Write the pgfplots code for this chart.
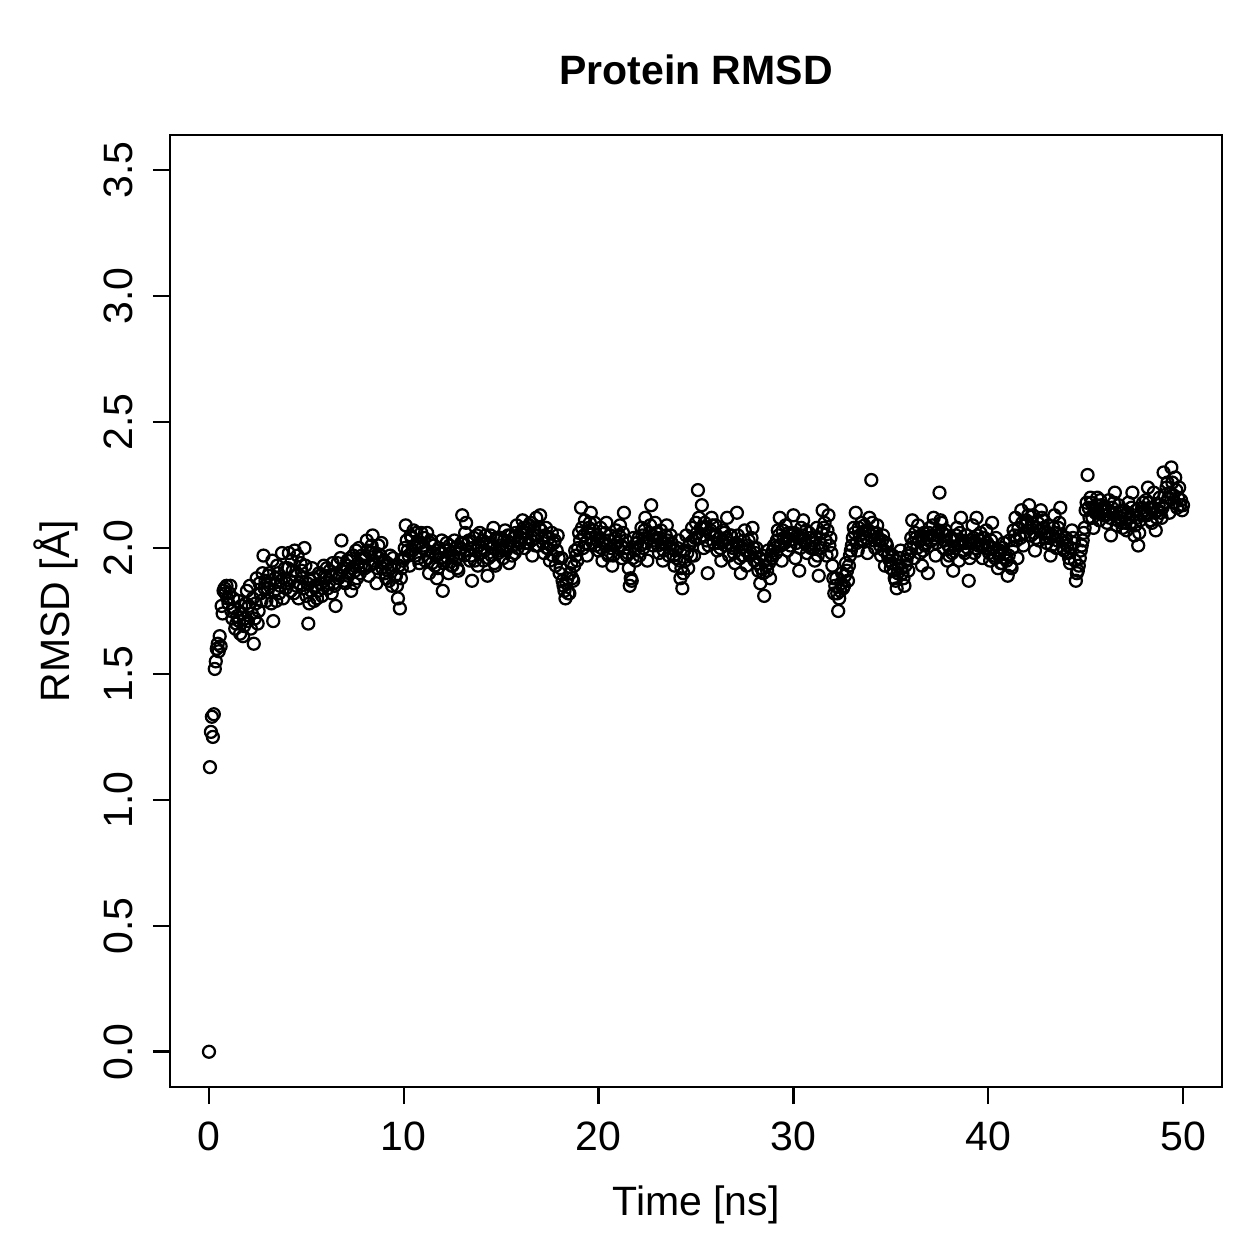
\documentclass[border=0pt]{standalone}
\usepackage{fontspec}
\setmainfont{Liberation Sans}
\usepackage{pgfplots}
\pgfplotsset{compat=1.18}

\begin{document}
\fontsize{16.4}{19.7}\selectfont
\begin{tikzpicture}
\begin{axis}[
  at={(0,0)}, anchor=south west,
  scale only axis,
  width=420.8pt, height=380.8pt,
  xmin=-2, xmax=52,
  ymin=-0.14, ymax=3.64,
  xtick={0,10,20,30,40,50},
  ytick={0,0.5,1,1.5,2,2.5,3,3.5},
  xtick pos=lower, ytick pos=left,
  tick align=outside,
  major tick length=6.8pt,
  axis line style={line width=1pt},
  every tick/.style={line width=1pt, black},
  /pgf/number format/assume math mode=true,
  tick label style={font=\fontsize{16.4}{19.7}\selectfont},
  xticklabel style={inner sep=0pt, anchor=north, yshift=-6.8pt},
  yticklabel style={inner sep=0pt, xshift=-8pt, rotate=90, anchor=base,
    /pgf/number format/fixed, /pgf/number format/fixed zerofill,
    /pgf/number format/precision=1},
  xlabel={Time [ns]},
  ylabel={RMSD [Å]},
  xlabel style={at={(axis description cs:0.5,0)}, anchor=base, inner sep=0pt, yshift=-51.2pt},
  ylabel style={at={(axis description cs:-0.0951,0.5)}, rotate=0, anchor=base, inner sep=0pt},
  label style={font=\fontsize{16.4}{19.7}\selectfont},
  title={Protein RMSD},
  title style={at={(axis description cs:0.5,1)}, anchor=base, inner sep=0pt, yshift=14pt,
    font=\fontsize{16.4}{19.7}\selectfont\bfseries},
]
% RMSD of the protein backbone, one frame every 0.05 ns
\addplot[only marks, mark=o, mark size=2.4pt, black,
  mark options={line width=0.9pt}] coordinates {
(0,0.00)(0.05,1.13)(0.1,1.27)(0.15,1.33)(0.2,1.25)(0.25,1.34)(0.3,1.52)(0.35,1.55)(0.4,1.60)(0.45,1.62)
(0.5,1.59)(0.55,1.65)(0.6,1.61)(0.65,1.77)(0.7,1.74)(0.75,1.83)(0.8,1.84)(0.85,1.82)(0.9,1.85)(0.95,1.80)
(1.0,1.78)(1.1,1.85)(1.2,1.72)(1.3,1.76)(1.4,1.70)(1.5,1.79)(1.6,1.66)(1.7,1.74)(1.8,1.69)(1.9,1.78)
(2.0,1.71)(2.1,1.85)(2.2,1.74)(2.3,1.62)(2.4,1.78)(2.5,1.70)(2.6,1.86)(2.7,1.79)(2.8,1.97)(2.9,1.87)
(3.0,1.84)(3.1,1.90)(3.2,1.78)(3.3,1.71)(3.4,1.88)(3.5,1.93)(3.6,1.82)(3.7,1.87)(3.8,1.80)(3.9,1.92)
(4.0,1.86)(4.1,1.98)(4.2,1.83)(4.3,1.91)(4.4,1.99)(4.5,1.85)(4.6,1.80)(4.7,1.94)(4.8,1.88)(4.9,2.00)
(5.0,1.81)(5.1,1.70)(5.2,1.87)(5.3,1.92)(5.4,1.79)(5.5,1.85)(5.6,1.83)(5.7,1.89)(5.8,1.81)(5.9,1.93)
(6.0,1.88)(6.1,1.84)(6.2,1.91)(6.3,1.82)(6.4,1.86)(6.5,1.77)(6.6,1.94)(6.7,1.89)(6.8,2.03)(6.9,1.92)
(7.0,1.86)(7.1,1.95)(7.2,1.90)(7.3,1.83)(7.4,1.97)(7.5,1.91)(7.6,1.88)(7.7,2.00)(7.8,1.93)(7.9,1.96)
(8.0,1.92)(8.1,2.03)(8.2,1.89)(8.3,1.98)(8.4,2.05)(8.5,1.94)(8.6,1.86)(8.7,2.01)(8.8,1.97)(8.9,1.92)
(9.0,1.95)(9.1,1.88)(9.2,1.91)(9.3,1.97)(9.4,1.85)(9.5,1.93)(9.6,1.89)(9.7,1.80)(9.8,1.76)(9.9,1.92)
(10.0,1.96)(10.1,2.09)(10.2,1.99)(10.3,1.93)(10.4,2.04)(10.5,2.07)(10.6,1.97)(10.7,2.02)(10.8,1.94)(10.9,2.06)
(11.0,2.01)(11.1,1.95)(11.2,2.06)(11.3,1.90)(11.4,2.03)(11.5,1.98)(11.6,1.93)(11.7,1.88)(11.8,2.00)(11.9,1.96)
(12.0,1.83)(12.1,1.95)(12.2,2.02)(12.3,1.90)(12.4,1.98)(12.5,1.93)(12.6,2.03)(12.7,1.96)(12.8,1.91)(12.9,2.00)
(13.0,2.13)(13.1,1.97)(13.2,2.10)(13.3,2.02)(13.4,1.95)(13.5,1.87)(13.6,2.04)(13.7,1.99)(13.8,1.93)(13.9,2.06)
(14.0,2.00)(14.1,1.95)(14.2,2.05)(14.3,1.89)(14.4,2.02)(14.5,1.97)(14.6,2.08)(14.7,1.93)(14.8,2.03)(14.9,1.99)
(15.0,2.04)(15.1,1.96)(15.2,2.07)(15.3,2.00)(15.4,1.94)(15.5,2.05)(15.6,2.01)(15.7,1.98)(15.8,2.09)(15.9,2.03)
(16.0,2.06)(16.1,2.11)(16.2,2.00)(16.3,2.08)(16.4,2.02)(16.5,2.10)(16.6,1.97)(16.7,2.05)(16.8,2.12)(16.9,2.01)
(17.0,2.13)(17.1,2.04)(17.2,1.98)(17.3,2.08)(17.4,2.00)(17.5,1.95)(17.6,2.06)(17.7,2.02)(17.8,1.93)(17.9,2.05)
(18.0,1.90)(18.1,1.96)(18.2,1.85)(18.3,1.80)(18.4,1.88)(18.5,1.82)(18.6,1.94)(18.7,1.87)(18.8,1.99)(18.9,1.95)
(19.0,2.06)(19.1,2.16)(19.2,2.00)(19.3,2.11)(19.4,1.97)(19.5,2.08)(19.6,2.14)(19.7,2.02)(19.8,2.10)(19.9,2.05)
(20.0,1.99)(20.1,2.08)(20.2,1.95)(20.3,2.03)(20.4,2.10)(20.5,1.97)(20.6,2.05)(20.7,1.93)(20.8,2.01)(20.9,2.07)
(21.0,2.00)(21.1,2.09)(21.2,1.96)(21.3,2.14)(21.4,2.03)(21.5,1.98)(21.6,1.85)(21.7,1.87)(21.8,2.04)(21.9,1.95)
(22.0,2.02)(22.1,1.97)(22.2,2.08)(22.3,2.00)(22.4,2.12)(22.5,1.95)(22.6,2.06)(22.7,2.17)(22.8,2.01)(22.9,2.10)
(23.0,2.04)(23.1,1.98)(23.2,2.07)(23.3,1.95)(23.4,2.02)(23.5,2.09)(23.6,1.97)(23.7,2.05)(23.8,2.00)(23.9,1.93)
(24.0,1.96)(24.1,2.03)(24.2,1.88)(24.3,1.84)(24.4,1.99)(24.5,2.05)(24.6,1.92)(24.7,2.02)(24.8,2.08)(24.9,1.97)
(25.0,2.10)(25.1,2.23)(25.2,2.04)(25.3,2.17)(25.4,2.00)(25.5,2.08)(25.6,1.90)(25.7,2.06)(25.8,2.12)(25.9,2.02)
(26.0,2.09)(26.1,1.99)(26.2,2.04)(26.3,1.95)(26.4,2.07)(26.5,2.01)(26.6,2.12)(26.7,1.97)(26.8,2.05)(26.9,2.00)
(27.0,1.94)(27.1,2.14)(27.2,2.01)(27.3,1.90)(27.4,1.97)(27.5,2.07)(27.6,1.93)(27.7,2.03)(27.8,1.98)(27.9,2.08)
(28.0,1.95)(28.1,2.00)(28.2,1.91)(28.3,1.86)(28.4,1.97)(28.5,1.81)(28.6,1.93)(28.7,1.99)(28.8,1.88)(28.9,1.96)
(29.0,2.01)(29.1,1.98)(29.2,2.07)(29.3,2.12)(29.4,1.95)(29.5,2.04)(29.6,2.09)(29.7,1.99)(29.8,2.03)(29.9,2.06)
(30.0,2.13)(30.1,1.96)(30.2,2.05)(30.3,1.91)(30.4,2.08)(30.5,2.11)(30.6,2.02)(30.7,1.98)(30.8,2.06)(30.9,2.00)
(31.0,2.03)(31.1,1.95)(31.2,2.08)(31.3,1.89)(31.4,2.00)(31.5,2.15)(31.6,2.10)(31.7,1.97)(31.8,2.13)(31.9,2.04)
(32.0,1.93)(32.1,1.82)(32.2,1.88)(32.3,1.75)(32.4,1.83)(32.5,1.90)(32.6,1.85)(32.7,1.94)(32.8,1.87)(32.9,1.97)
(33.0,2.01)(33.1,2.08)(33.2,2.14)(33.3,1.99)(33.4,2.05)(33.5,2.10)(33.6,2.03)(33.7,2.07)(33.8,1.98)(33.9,2.12)
(34.0,2.27)(34.1,2.06)(34.2,2.00)(34.3,2.09)(34.4,2.03)(34.5,1.97)(34.6,2.05)(34.7,1.93)(34.8,2.01)(34.9,1.98)
(35.0,1.92)(35.1,1.97)(35.2,1.88)(35.3,1.84)(35.4,1.93)(35.5,1.99)(35.6,1.90)(35.7,1.85)(35.8,1.95)(35.9,1.91)
(36.0,2.00)(36.1,2.11)(36.2,1.96)(36.3,2.04)(36.4,2.09)(36.5,1.98)(36.6,1.93)(36.7,2.06)(36.8,2.02)(36.9,1.90)
(37.0,2.08)(37.1,2.03)(37.2,2.12)(37.3,1.97)(37.4,2.05)(37.5,2.22)(37.6,2.10)(37.7,2.00)(37.8,2.07)(37.9,1.95)
(38.0,1.97)(38.1,2.04)(38.2,1.91)(38.3,2.00)(38.4,2.08)(38.5,1.95)(38.6,2.12)(38.7,2.02)(38.8,1.98)(38.9,2.05)
(39.0,1.87)(39.1,2.03)(39.2,2.09)(39.3,1.98)(39.4,2.12)(39.5,2.01)(39.6,2.06)(39.7,1.96)(39.8,2.04)(39.9,2.07)
(40.0,2.01)(40.1,1.95)(40.2,2.10)(40.3,1.97)(40.4,2.04)(40.5,1.92)(40.6,1.99)(40.7,1.94)(40.8,2.02)(40.9,1.96)
(41.0,1.89)(41.1,2.03)(41.2,1.92)(41.3,2.07)(41.4,2.12)(41.5,1.96)(41.6,2.05)(41.7,2.15)(41.8,2.01)(41.9,2.09)
(42.0,2.10)(42.1,2.17)(42.2,2.05)(42.3,2.13)(42.4,1.99)(42.5,2.08)(42.6,2.03)(42.7,2.15)(42.8,2.11)(42.9,2.06)
(43.0,2.02)(43.1,2.09)(43.2,1.97)(43.3,2.05)(43.4,2.13)(43.5,2.00)(43.6,2.08)(43.7,2.16)(43.8,2.03)(43.9,1.99)
(44.0,2.04)(44.1,1.98)(44.2,1.94)(44.3,2.07)(44.4,2.02)(44.5,1.87)(44.6,1.91)(44.7,1.96)(44.8,2.01)(44.9,2.06)
(45.0,2.15)(45.1,2.29)(45.2,2.12)(45.3,2.18)(45.4,2.08)(45.5,2.14)(45.6,2.20)(45.7,2.11)(45.8,2.17)(45.9,2.13)
(46.0,2.16)(46.1,2.10)(46.2,2.19)(46.3,2.05)(46.4,2.14)(46.5,2.22)(46.6,2.09)(46.7,2.17)(46.8,2.12)(46.9,2.08)
(47.0,2.13)(47.1,2.07)(47.2,2.18)(47.3,2.10)(47.4,2.22)(47.5,2.05)(47.6,2.15)(47.7,2.01)(47.8,2.11)(47.9,2.16)
(48.0,2.13)(48.1,2.19)(48.2,2.24)(48.3,2.16)(48.4,2.10)(48.5,2.22)(48.6,2.07)(48.7,2.15)(48.8,2.20)(48.9,2.12)
(49.0,2.30)(49.1,2.18)(49.2,2.26)(49.3,2.14)(49.4,2.32)(49.5,2.21)(49.6,2.28)(49.7,2.16)(49.8,2.24)(49.9,2.19)
(50.0,2.17)
(1.05,1.82)(1.15,1.75)(1.25,1.80)(1.35,1.68)(1.45,1.73)(1.55,1.71)(1.65,1.77)(1.75,1.65)(1.85,1.72)(1.95,1.83)
(2.05,1.77)(2.15,1.68)(2.25,1.80)(2.35,1.72)(2.45,1.88)(2.55,1.75)(2.65,1.82)(2.75,1.90)(2.85,1.84)(2.95,1.79)
(3.05,1.89)(3.15,1.86)(3.25,1.95)(3.35,1.83)(3.45,1.79)(3.55,1.90)(3.65,1.85)(3.75,1.98)(3.85,1.88)(3.95,1.84)
(4.05,1.92)(4.15,1.87)(4.25,1.95)(4.35,1.82)(4.45,1.89)(4.55,1.97)(4.65,1.86)(4.75,1.91)(4.85,1.84)(4.95,1.93)
(5.05,1.86)(5.15,1.78)(5.25,1.83)(5.35,1.88)(5.45,1.85)(5.55,1.80)(5.65,1.90)(5.75,1.86)(5.85,1.84)(5.95,1.89)
(6.05,1.92)(6.15,1.86)(6.25,1.89)(6.35,1.94)(6.45,1.85)(6.55,1.90)(6.65,1.88)(6.75,1.96)(6.85,1.91)(6.95,1.87)
(7.05,1.93)(7.15,1.89)(7.25,1.96)(7.35,1.92)(7.45,1.86)(7.55,1.99)(7.65,1.94)(7.75,1.90)(7.85,1.97)(7.95,1.93)
(8.05,1.96)(8.15,1.99)(8.25,1.93)(8.35,2.01)(8.45,1.95)(8.55,1.98)(8.65,1.92)(8.75,1.96)(8.85,2.02)(8.95,1.94)
(9.05,1.90)(9.15,1.94)(9.25,1.87)(9.35,1.92)(9.45,1.96)(9.55,1.89)(9.65,1.85)(9.75,1.93)(9.85,1.88)(9.95,1.95)
(10.05,2.00)(10.15,2.03)(10.25,1.97)(10.35,2.05)(10.45,1.99)(10.55,2.01)(10.65,2.06)(10.75,1.96)(10.85,2.02)(10.95,2.00)
(11.05,2.04)(11.15,1.99)(11.25,1.96)(11.35,2.02)(11.45,1.94)(11.55,2.01)(11.65,1.97)(11.75,1.92)(11.85,1.98)(11.95,2.03)
(12.05,1.94)(12.15,1.99)(12.25,1.96)(12.35,2.01)(12.45,1.93)(12.55,1.97)(12.65,2.00)(12.75,1.92)(12.85,1.98)(12.95,2.02)
(13.05,2.02)(13.15,2.06)(13.25,1.99)(13.35,2.03)(13.45,1.97)(13.55,2.00)(13.65,1.95)(13.75,2.05)(13.85,2.01)(13.95,1.98)
(14.05,2.03)(14.15,1.99)(14.25,2.02)(14.35,1.96)(14.45,2.05)(14.55,2.00)(14.65,1.94)(14.75,2.04)(14.85,1.98)(14.95,2.01)
(15.05,2.00)(15.15,2.03)(15.25,1.99)(15.35,2.05)(15.45,2.02)(15.55,1.97)(15.65,2.04)(15.75,2.06)(15.85,2.00)(15.95,2.02)
(16.05,2.04)(16.15,2.08)(16.25,2.02)(16.35,2.06)(16.45,2.09)(16.55,2.03)(16.65,2.07)(16.75,2.01)(16.85,2.05)(16.95,2.08)
(17.05,2.07)(17.15,2.02)(17.25,2.05)(17.35,2.00)(17.45,2.04)(17.55,2.01)(17.65,1.97)(17.75,2.03)(17.85,1.99)(17.95,1.96)
(18.05,1.92)(18.15,1.87)(18.25,1.83)(18.35,1.86)(18.45,1.82)(18.55,1.90)(18.65,1.88)(18.75,1.93)(18.85,1.97)(18.95,2.00)
(19.05,2.03)(19.15,2.08)(19.25,2.05)(19.35,2.02)(19.45,2.06)(19.55,2.10)(19.65,2.04)(19.75,2.07)(19.85,2.01)(19.95,2.03)
(20.05,2.04)(20.15,2.00)(20.25,2.02)(20.35,2.06)(20.45,1.98)(20.55,2.03)(20.65,2.00)(20.75,1.97)(20.85,2.04)(20.95,2.02)
(21.05,2.05)(21.15,2.01)(21.25,2.06)(21.35,2.00)(21.45,1.97)(21.55,1.92)(21.65,1.88)(21.75,1.96)(21.85,1.99)(21.95,2.02)
(22.05,2.04)(22.15,2.01)(22.25,2.05)(22.35,2.07)(22.45,2.02)(22.55,2.04)(22.65,2.09)(22.75,2.05)(22.85,2.03)(22.95,2.06)
(23.05,2.01)(23.15,2.04)(23.25,2.02)(23.35,1.99)(23.45,2.05)(23.55,2.03)(23.65,2.00)(23.75,2.02)(23.85,1.97)(23.95,1.99)
(24.05,2.00)(24.15,1.95)(24.25,1.92)(24.35,1.90)(24.45,1.95)(24.55,1.98)(24.65,2.01)(24.75,1.97)(24.85,2.03)(24.95,2.04)
(25.05,2.06)(25.15,2.12)(25.25,2.08)(25.35,2.05)(25.45,2.10)(25.55,2.03)(25.65,2.01)(25.75,2.07)(25.85,2.09)(25.95,2.05)
(26.05,2.05)(26.15,2.02)(26.25,2.00)(26.35,2.03)(26.45,2.06)(26.55,2.04)(26.65,2.02)(26.75,2.05)(26.85,2.01)(26.95,1.98)
(27.05,2.02)(27.15,2.05)(27.25,1.96)(27.35,2.00)(27.45,2.03)(27.55,1.99)(27.65,2.01)(27.75,1.97)(27.85,2.04)(27.95,2.00)
(28.05,1.98)(28.15,1.94)(28.25,1.96)(28.35,1.92)(28.45,1.90)(28.55,1.95)(28.65,1.91)(28.75,1.94)(28.85,1.97)(28.95,1.99)
(29.05,2.00)(29.15,2.03)(29.25,2.05)(29.35,2.01)(29.45,2.07)(29.55,2.02)(29.65,2.04)(29.75,2.06)(29.85,2.01)(29.95,2.05)
(30.05,2.06)(30.15,2.02)(30.25,2.04)(30.35,2.00)(30.45,2.05)(30.55,2.03)(30.65,2.07)(30.75,2.01)(30.85,2.04)(30.95,2.02)
(31.05,2.00)(31.15,2.04)(31.25,1.97)(31.35,2.02)(31.45,2.06)(31.55,2.08)(31.65,2.03)(31.75,2.07)(31.85,2.01)(31.95,1.98)
(32.05,1.88)(32.15,1.85)(32.25,1.82)(32.35,1.80)(32.45,1.86)(32.55,1.84)(32.65,1.89)(32.75,1.91)(32.85,1.93)(32.95,1.99)
(33.05,2.04)(33.15,2.06)(33.25,2.02)(33.35,2.08)(33.45,2.03)(33.55,2.06)(33.65,2.09)(33.75,2.04)(33.85,2.07)(33.95,2.05)
(34.05,2.10)(34.15,2.03)(34.25,2.06)(34.35,2.04)(34.45,2.01)(34.55,2.03)(34.65,1.99)(34.75,2.02)(34.85,1.97)(34.95,1.95)
(35.05,1.94)(35.15,1.91)(35.25,1.87)(35.35,1.90)(35.45,1.96)(35.55,1.92)(35.65,1.88)(35.75,1.93)(35.85,1.97)(35.95,1.98)
(36.05,2.04)(36.15,2.02)(36.25,2.06)(36.35,2.00)(36.45,2.03)(36.55,2.05)(36.65,1.99)(36.75,2.01)(36.85,2.04)(36.95,2.06)
(37.05,2.05)(37.15,2.09)(37.25,2.04)(37.35,2.02)(37.45,2.07)(37.55,2.11)(37.65,2.06)(37.75,2.03)(37.85,2.05)(37.95,2.01)
(38.05,2.00)(38.15,1.98)(38.25,2.03)(38.35,2.05)(38.45,2.01)(38.55,2.06)(38.65,2.03)(38.75,1.99)(38.85,2.02)(38.95,2.00)
(39.05,1.96)(39.15,2.02)(39.25,2.04)(39.35,2.00)(39.45,2.05)(39.55,2.03)(39.65,2.01)(39.75,2.04)(39.85,2.00)(39.95,2.02)
(40.05,1.98)(40.15,2.03)(40.25,2.00)(40.35,1.96)(40.45,1.99)(40.55,1.97)(40.65,1.94)(40.75,2.00)(40.85,1.98)(40.95,1.95)
(41.05,1.97)(41.15,1.93)(41.25,2.00)(41.35,2.05)(41.45,2.03)(41.55,2.08)(41.65,2.04)(41.75,2.10)(41.85,2.06)(41.95,2.11)
(42.05,2.13)(42.15,2.08)(42.25,2.10)(42.35,2.06)(42.45,2.04)(42.55,2.10)(42.65,2.07)(42.75,2.12)(42.85,2.08)(42.95,2.04)
(43.05,2.06)(43.15,2.04)(43.25,2.01)(43.35,2.08)(43.45,2.06)(43.55,2.03)(43.65,2.10)(43.75,2.05)(43.85,2.00)(43.95,2.02)
(44.05,2.01)(44.15,1.96)(44.25,2.00)(44.35,2.04)(44.45,1.95)(44.55,1.90)(44.65,1.93)(44.75,1.99)(44.85,2.03)(44.95,2.08)
(45.05,2.18)(45.15,2.16)(45.25,2.20)(45.35,2.12)(45.45,2.15)(45.55,2.17)(45.65,2.14)(45.75,2.19)(45.85,2.15)(45.95,2.16)
(46.05,2.13)(46.15,2.15)(46.25,2.12)(46.35,2.16)(46.45,2.18)(46.55,2.14)(46.65,2.11)(46.75,2.14)(46.85,2.10)(46.95,2.15)
(47.05,2.10)(47.15,2.14)(47.25,2.12)(47.35,2.16)(47.45,2.13)(47.55,2.09)(47.65,2.12)(47.75,2.06)(47.85,2.14)(47.95,2.18)
(48.05,2.15)(48.15,2.13)(48.25,2.18)(48.35,2.11)(48.45,2.16)(48.55,2.14)(48.65,2.12)(48.75,2.17)(48.85,2.14)(48.95,2.16)
(49.05,2.21)(49.15,2.24)(49.25,2.20)(49.35,2.22)(49.45,2.26)(49.55,2.18)(49.65,2.23)(49.75,2.20)(49.85,2.17)(49.95,2.15)
};
\end{axis}
\pgfresetboundingbox
\path[use as bounding box] (-68pt,-68.8pt) rectangle (435.6pt,434.8pt);
\end{tikzpicture}
\end{document}
